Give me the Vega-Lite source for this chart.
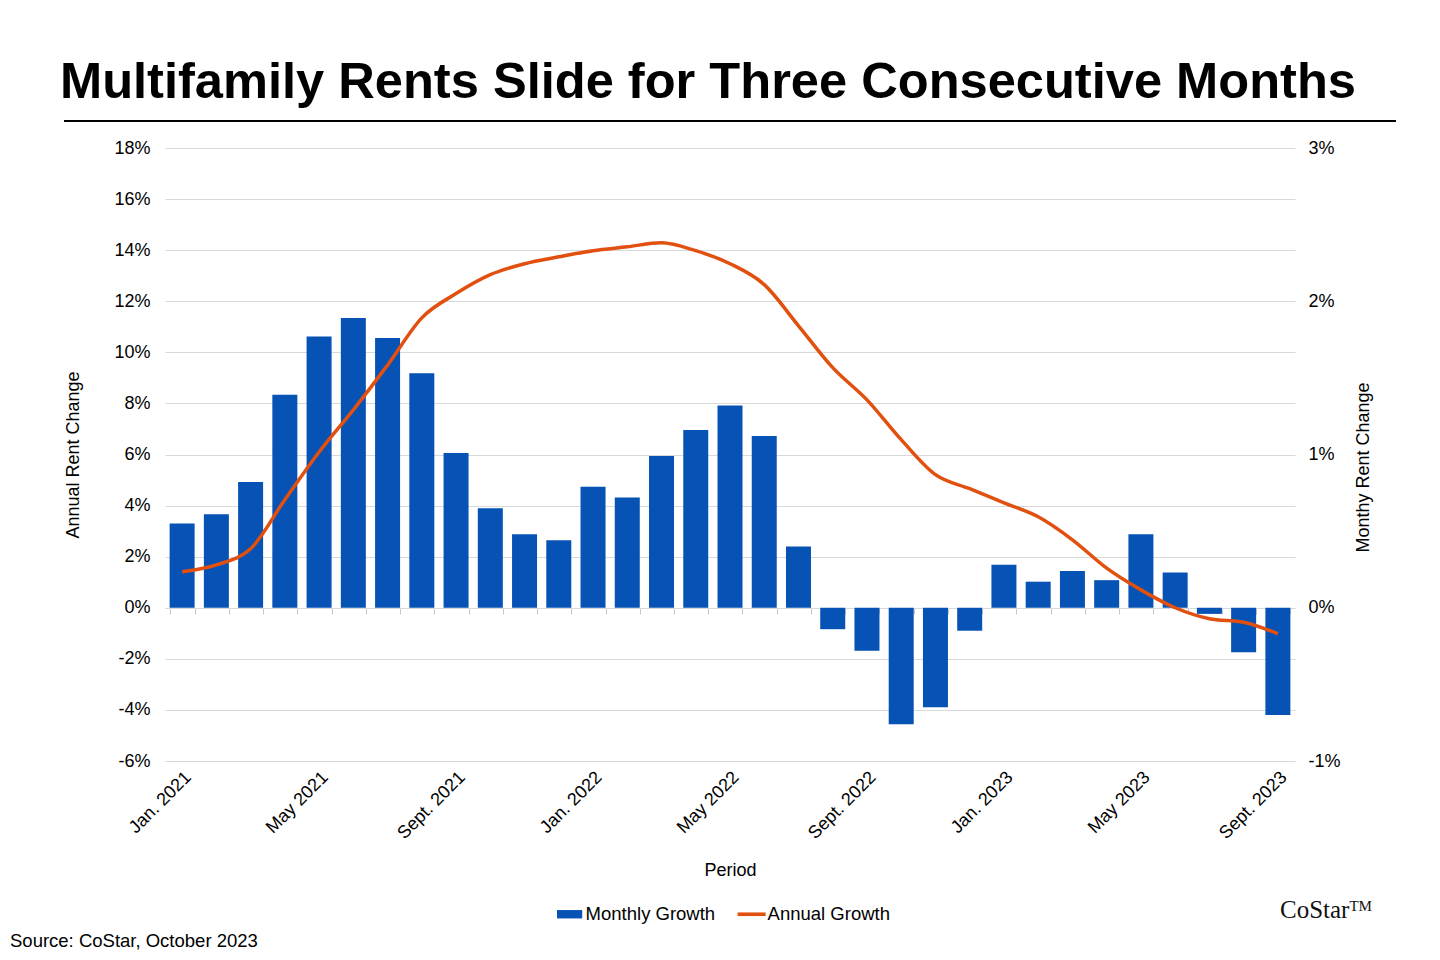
{
  "$schema": "https://vega.github.io/schema/vega-lite/v6.json",
  "background": "#ffffff",
  "padding": {"left": 10, "top": 56, "right": 10, "bottom": 5},
  "title": {
    "text": "Source: CoStar, October 2023",
    "orient": "bottom",
    "anchor": "start",
    "dx": -49,
    "offset": 8,
    "fontSize": 18.5,
    "fontWeight": "normal",
    "color": "#000000"
  },
  "center": true,
  "bounds": "flush",
  "spacing": 26,
  "vconcat": [
    {
      "title": {
        "text": "Multifamily Rents Slide for Three Consecutive Months",
        "fontSize": 50.6,
        "fontWeight": "bold",
        "anchor": "start",
        "dx": -5,
        "offset": 10,
        "color": "#000000"
      },
      "width": 1330,
      "height": 0.001,
      "view": {"stroke": "#000000", "strokeWidth": 2},
      "data": {"values": [{}]},
      "mark": {"type": "point", "opacity": 0},
      "encoding": {}
    },
    {
      "width": 1130,
      "height": 613,
      "title": {
        "text": "CoStarᵀᴹ",
        "orient": "bottom",
        "anchor": "end",
        "offset": 19,
        "font": "Liberation Serif",
        "fontSize": 25,
        "fontWeight": "normal",
        "color": "#111111"
      },
      "data": {
        "values": [
          {"period": "Jan. 2021", "monthly": 0.55, "annual": 1.41},
          {"period": "Feb. 2021", "monthly": 0.61, "annual": 1.68},
          {"period": "Mar. 2021", "monthly": 0.82, "annual": 2.31},
          {"period": "Apr. 2021", "monthly": 1.39, "annual": 4.23},
          {"period": "May 2021", "monthly": 1.77, "annual": 6.1},
          {"period": "June 2021", "monthly": 1.89, "annual": 7.75},
          {"period": "July 2021", "monthly": 1.76, "annual": 9.5},
          {"period": "Aug. 2021", "monthly": 1.53, "annual": 11.35},
          {"period": "Sept. 2021", "monthly": 1.01, "annual": 12.3},
          {"period": "Oct. 2021", "monthly": 0.65, "annual": 13.04},
          {"period": "Nov. 2021", "monthly": 0.48, "annual": 13.47},
          {"period": "Dec. 2021", "monthly": 0.44, "annual": 13.74},
          {"period": "Jan. 2022", "monthly": 0.79, "annual": 13.98},
          {"period": "Feb. 2022", "monthly": 0.72, "annual": 14.13},
          {"period": "Mar. 2022", "monthly": 0.99, "annual": 14.29},
          {"period": "Apr. 2022", "monthly": 1.16, "annual": 13.98},
          {"period": "May 2022", "monthly": 1.32, "annual": 13.47},
          {"period": "June 2022", "monthly": 1.12, "annual": 12.65},
          {"period": "July 2022", "monthly": 0.4, "annual": 11.04},
          {"period": "Aug. 2022", "monthly": -0.14, "annual": 9.4},
          {"period": "Sept. 2022", "monthly": -0.28, "annual": 8.14},
          {"period": "Oct. 2022", "monthly": -0.76, "annual": 6.58},
          {"period": "Nov. 2022", "monthly": -0.65, "annual": 5.21},
          {"period": "Dec. 2022", "monthly": -0.15, "annual": 4.66},
          {"period": "Jan. 2023", "monthly": 0.28, "annual": 4.11},
          {"period": "Feb. 2023", "monthly": 0.17, "annual": 3.56},
          {"period": "Mar. 2023", "monthly": 0.24, "annual": 2.66},
          {"period": "Apr. 2023", "monthly": 0.18, "annual": 1.55},
          {"period": "May 2023", "monthly": 0.48, "annual": 0.7},
          {"period": "June 2023", "monthly": 0.23, "annual": 0.0},
          {"period": "July 2023", "monthly": -0.04, "annual": -0.43},
          {"period": "Aug. 2023", "monthly": -0.29, "annual": -0.57},
          {"period": "Sept. 2023", "monthly": -0.7, "annual": -1.02}
        ]
      },
      "layer": [
        {
          "mark": {"type": "bar"},
          "encoding": {
            "x": {
              "field": "period",
              "type": "ordinal",
              "sort": null,
              "scale": {"paddingInner": 0.27, "paddingOuter": 0.135},
              "axis": {
                "orient": "bottom",
                "title": "Period",
                "values": ["Jan. 2021", "May 2021", "Sept. 2021", "Jan. 2022", "May 2022", "Sept. 2022", "Jan. 2023", "May 2023", "Sept. 2023"],
                "labelAngle": -45,
                "labelPadding": 7,
                "titlePadding": 19,
                "domain": false,
                "ticks": false,
                "grid": false
              }
            },
            "y": {
              "field": "monthly",
              "type": "quantitative",
              "scale": {"domain": [-1, 3], "nice": false, "zero": false},
              "axis": {
                "orient": "right",
                "title": "Monthy Rent Change",
                "titleAngle": -90,
                "titleBaseline": "top",
                "titleY": 319,
                "values": [-1, 0, 1, 2, 3],
                "labelExpr": "datum.value + '%'",
                "labelPadding": 13,
                "titlePadding": 14,
                "domain": false,
                "ticks": false,
                "grid": false
              }
            },
            "color": {
              "datum": "Monthly Growth",
              "scale": {"domain": ["Monthly Growth", "Annual Growth"], "range": ["#0652B5", "#E2500F"]},
              "legend": {
                "title": null,
                "orient": "none",
                "legendX": 490.6,
                "legendY": 779,
                "direction": "horizontal",
                "symbolSize": 784,
                "columnPadding": 22,
                "labelOffset": 2,
                "encode": {
                  "symbols": {
                    "update": {
                      "shape": {"signal": "datum.value === 'Monthly Growth' ? 'M-0.9,-0.3H0.9V0.3H-0.9Z' : 'M-1,-0.13H1V0.13H-1Z'"},
                      "fill": {"scale": "color", "field": "value"},
                      "stroke": {"value": "transparent"},
                      "strokeWidth": {"value": 0},
                      "opacity": {"value": 1}
                    }
                  }
                }
              }
            }
          }
        },
        {
          "mark": {"type": "line", "strokeWidth": 3.5, "interpolate": "monotone"},
          "encoding": {
            "x": {
              "field": "period",
              "type": "ordinal",
              "sort": null,
              "axis": {
                "orient": "bottom",
                "offset": -153,
                "title": null,
                "labels": false,
                "domain": true,
                "domainColor": "#D9D9D9",
                "domainWidth": 1,
                "ticks": true,
                "tickBand": "extent",
                "tickColor": "#C8C8C8",
                "tickSize": 6,
                "grid": false
              }
            },
            "y": {
              "field": "annual",
              "type": "quantitative",
              "scale": {"domain": [-6, 18], "nice": false},
              "axis": {
                "orient": "left",
                "title": "Annual Rent Change",
                "values": [-6, -4, -2, 0, 2, 4, 6, 8, 10, 12, 14, 16, 18],
                "labelExpr": "datum.value + '%'",
                "labelPadding": 15,
                "titlePadding": 31,
                "domain": false,
                "ticks": false,
                "grid": true,
                "gridColor": "#D9D9D9"
              }
            },
            "color": {"datum": "Annual Growth"}
          }
        }
      ],
      "resolve": {
        "scale": {"y": "independent"},
        "axis": {"x": "independent"}
      }
    }
  ],
  "config": {
    "font": "Liberation Sans",
    "view": {"stroke": null},
    "axis": {
      "labelFont": "Liberation Sans",
      "labelFontSize": 18,
      "labelColor": "#000000",
      "titleFont": "Liberation Sans",
      "titleFontSize": 18,
      "titleFontWeight": "normal",
      "titleColor": "#000000"
    },
    "legend": {
      "labelFont": "Liberation Sans",
      "labelFontSize": 18.5,
      "labelColor": "#000000",
      "padding": 0
    },
    "title": {"font": "Liberation Sans"}
  }
}
